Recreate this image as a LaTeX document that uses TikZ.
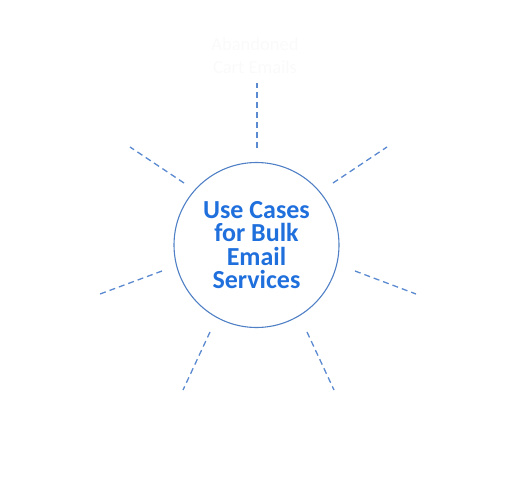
\documentclass[tikz,border=0pt]{standalone}
\usepackage{fontspec}
\setmainfont{Carlito}
\definecolor{spoke}{HTML}{5B8AD0}
\definecolor{ring}{HTML}{4F7FC4}
\definecolor{title}{HTML}{1F6FDC}
\definecolor{ghost}{HTML}{FAFAFA}
\tikzset{
  spokeline/.style={draw=spoke, line width=1.3pt, dash pattern=on 6pt off 4pt},
  hub/.style={circle, draw=ring, line width=1.1pt, minimum size=165pt, inner sep=0pt,
    align=center, font=\bfseries\fontsize{26}{23.5}\selectfont, text=title},
  ghostlabel/.style={align=center, font=\fontsize{18.5}{23}\selectfont, text=ghost}
}
\begin{document}
\begin{tikzpicture}[x=1pt,y=-1pt]
\useasboundingbox (0,0) rectangle (513,476);
\node[hub] (c) at (256.5,245) {Use Cases\\for Bulk\\Email\\Services};
\node[ghostlabel] (t) at (255,56) {Abandoned\\Cart Emails};
% spokes
\coordinate (a1) at (257,148); \coordinate (b1) at (257,83);
\coordinate (a2) at (333,183); \coordinate (b2) at (387,147);
\coordinate (a3) at (355,271); \coordinate (b3) at (416,294);
\coordinate (a4) at (307,332); \coordinate (b4) at (334,390);
\coordinate (a5) at (210,332); \coordinate (b5) at (183,390);
\coordinate (a6) at (162,271); \coordinate (b6) at (100,294);
\coordinate (a7) at (184,183); \coordinate (b7) at (130,147);
\foreach \i in {1,...,7}{\draw[spokeline] (a\i) -- (b\i);}
\end{tikzpicture}
\end{document}
